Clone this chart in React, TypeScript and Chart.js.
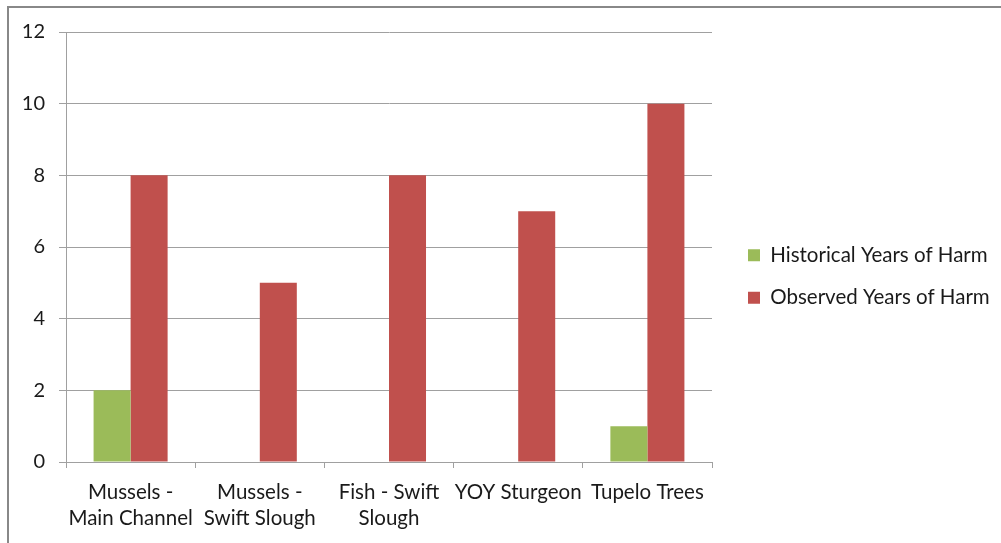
import React, { useEffect, useRef } from "react";
import { Chart, registerables } from "chart.js";

Chart.register(...registerables);

const categories: (string | string[])[] = [
  ["Mussels -", "Main Channel"],
  ["Mussels -", "Swift Slough"],
  ["Fish - Swift", "Slough"],
  "YOY Sturgeon",
  "Tupelo Trees",
];
const historical = [2, 0, 0, 0, 1];
const observed = [8, 5, 8, 7, 10];
const seriesNames = ["Historical Years of Harm", "Observed Years of Harm"];
const yTicks = [0, 2, 4, 6, 8, 10, 12];

const FONT = "Lato, 'Open Sans', sans-serif";

const legendShift = {
  id: "legendShift",
  afterInit(chart: any) {
    const lg = chart.legend;
    if (!lg || lg.__wrapped) return;
    const orig = lg.fit.bind(lg);
    lg.fit = function () {
      orig();
      this.width = 1001 - 712;
    };
    lg.__wrapped = true;
  },
  afterLayout(chart: any) {
    const lg = chart.legend;
    if (!lg) return;
    const dx = 748 - 22 - lg.left;
    lg.left += dx;
    lg.right += dx;
    lg.top -= 11;
    lg.bottom -= 11;
  },
};

export default function App() {
  const ref = useRef<HTMLCanvasElement | null>(null);
  useEffect(() => {
    document.body.style.overflow = "hidden";
    const ctx = ref.current!.getContext("2d")!;
    const chart = new Chart(ctx, {
      type: "bar",
      data: {
        labels: categories,
        datasets: [
          { label: seriesNames[0], data: historical, backgroundColor: "#9BBB59", borderWidth: 0 },
          { label: seriesNames[1], data: observed, backgroundColor: "#C0504D", borderWidth: 0 },
        ],
      },
      plugins: [legendShift],
      options: {
        animation: false,
        responsive: false,
        maintainAspectRatio: false,
        devicePixelRatio: 1,
        layout: { padding: { left: 10, top: 32, right: 0, bottom: 0 } },
        datasets: { bar: { categoryPercentage: 0.573, barPercentage: 1 } },
        plugins: {
          legend: {
            position: "right",
            labels: {
              font: { family: FONT, size: 20.5 },
              color: "#1a1a1a",
              boxWidth: 12,
              boxHeight: 12,
              padding: 22,
            },
          },
          tooltip: { enabled: false },
        },
        scales: {
          x: {
            offset: true,
            grid: {
              offset: true,
              drawOnChartArea: false,
              drawTicks: true,
              tickLength: 6,
              color: "#A0A0A0",
              lineWidth: 1,
            },
            border: { color: "#A0A0A0", width: 1 },
            ticks: {
              font: { family: FONT, size: 20.5, lineHeight: 1.27 },
              color: "#1a1a1a",
              maxRotation: 0,
              autoSkip: false,
              padding: 11,
            },
            afterFit: (s: any) => {
              s.height = 81;
            },
          },
          y: {
            min: 0,
            max: 12,
            afterBuildTicks: (s: any) => {
              s.ticks = yTicks.map((v) => ({ value: v }));
            },
            grid: { color: "#A0A0A0", tickLength: 7, lineWidth: 1 },
            border: { color: "#A0A0A0", width: 1 },
            ticks: {
              font: { family: FONT, size: 20 },
              color: "#1a1a1a",
              padding: 14,
            },
            afterFit: (s: any) => {
              s.width = 56;
            },
          },
        },
      },
    });
    return () => chart.destroy();
  }, []);
  return (
    <div style={{ position: "fixed", left: 0, top: 0, width: 1001, height: 543, background: "#fff" }}>
      <div
        style={{
          position: "absolute",
          left: 7,
          top: 6,
          width: 1100,
          height: 700,
          borderLeft: "2px solid #888",
          borderTop: "2px solid #888",
        }}
      />
      <canvas ref={ref} width={1001} height={543} style={{ position: "absolute", left: 0, top: 0 }} />
    </div>
  );
}
